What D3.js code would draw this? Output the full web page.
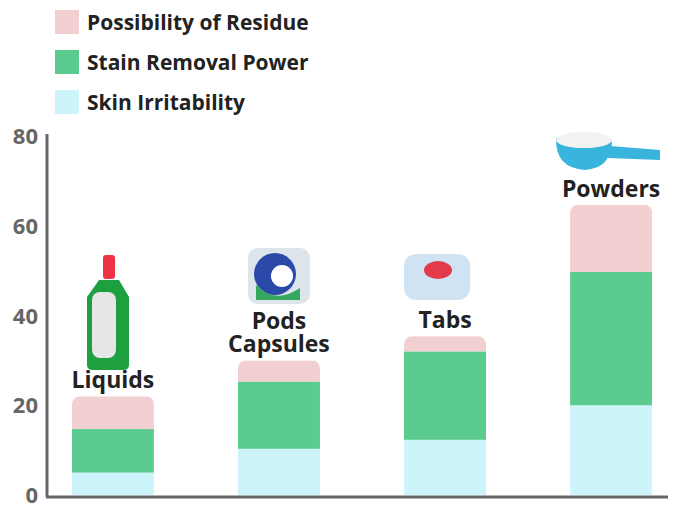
<!DOCTYPE html><html><head><meta charset="utf-8">
<script src="https://cdn.jsdelivr.net/npm/d3@7"></script>
<style>body{margin:0;background:#fff}svg{font-family:"Open Sans","Noto Sans",sans-serif}</style></head><body>
<svg id="c" width="690" height="518"></svg>
<script>
const categories=["Liquids","Pods|Capsules","Tabs","Powders"];
const skin=[5,10.3,12.3,20];
const stain=[9.7,15,19.7,29.7];
const residue=[7.3,4.7,3.4,15];
const seriesNames=["Possibility of Residue","Stain Removal Power","Skin Irritability"];
const colors=["#f2cfd0","#5ccb8f","#cdf3fb"];
const yTicks=[0,20,40,60,80];

const svg=d3.select("#c");
const x=d3.scaleBand().domain(categories).range([47,677]).paddingInner(0.506).paddingOuter(0.15);
const y=d3.scaleLinear().domain([0,80]).range([495,136]);

svg.append("line").attr("x1",47).attr("x2",47).attr("y1",134).attr("y2",497).attr("stroke","#666").attr("stroke-width",3);
svg.append("line").attr("x1",46).attr("x2",668).attr("y1",497).attr("y2",497).attr("stroke","#666").attr("stroke-width",3);
svg.selectAll("text.yt").data(yTicks).join("text").attr("x",38).attr("y",d=>y(d)+8)
 .attr("text-anchor","end").attr("font-size",22).attr("font-weight",700).attr("fill","#666").text(d=>d);

const rows=categories.map((c,i)=>({c,vals:[skin[i],stain[i],residue[i]]}));
rows.forEach(r=>{
  const total=r.vals.reduce((a,b)=>a+b,0);
  const bx=x(r.c),bw=x.bandwidth();
  const clipId="clip"+categories.indexOf(r.c);
  svg.append("clipPath").attr("id",clipId).append("rect").attr("x",bx).attr("y",y(total)).attr("width",bw).attr("height",y(0)-y(total)+10).attr("rx",8);
  const g=svg.append("g").attr("clip-path",`url(#${clipId})`);
  let acc=0;
  [2,1,0].forEach((ci,k)=>{
    const v=r.vals[k];
    g.append("rect").attr("x",bx).attr("width",bw).attr("y",y(acc+v)).attr("height",y(acc)-y(acc+v)).attr("fill",colors[ci]);
    acc+=v;
  });
  const lines=r.c.split("|");
  lines.forEach((t,j)=>{
    svg.append("text").attr("x",bx+bw/2).attr("y",y(total)-8-(lines.length-1-j)*23)
     .attr("text-anchor","middle").attr("font-size",23).attr("font-weight",700).attr("fill","#222").text(t);
  });
});

const ic=svg.append("g");
ic.append("rect").attr("x",103).attr("y",255).attr("width",12).attr("height",24).attr("fill","#ee3344").attr("rx",3);
ic.append("path").attr("d","M99,280 L119,280 L129,297 L129,365 Q129,370 123,370 L93,370 Q87,370 87,365 L87,297 Z").attr("fill","#1fa040");
ic.append("rect").attr("x",92).attr("y",292).attr("width",24).attr("height",66).attr("rx",8).attr("fill","#e6e6e6");
ic.append("rect").attr("x",248).attr("y",248).attr("width",62).attr("height",56).attr("rx",10).attr("fill","#dde4ea");
ic.append("circle").attr("cx",275).attr("cy",274).attr("r",21).attr("fill","#2a49a8");
ic.append("circle").attr("cx",282).attr("cy",276).attr("r",11).attr("fill","#ffffff");
ic.append("path").attr("d","M256,285 Q275,305 300,288 L300,300 L256,300 Z").attr("fill","#35a860");
ic.append("rect").attr("x",404).attr("y",254).attr("width",66).attr("height",46).attr("rx",12).attr("fill","#cfe3f2");
ic.append("ellipse").attr("cx",438).attr("cy",270).attr("rx",14).attr("ry",9).attr("fill","#e23a4a");
ic.append("path").attr("d","M556,138 Q555,168 585,170 Q612,168 612,140 Z").attr("fill","#39b5dd");
ic.append("ellipse").attr("cx",584).attr("cy",140).attr("rx",28).attr("ry",8).attr("fill","#f2f2f2");
ic.append("path").attr("d","M610,146 L660,150 L660,160 L608,158 Z").attr("fill","#39b5dd");

seriesNames.forEach((n,i)=>{
  svg.append("rect").attr("x",55).attr("y",10+i*40).attr("width",24).attr("height",24).attr("fill",colors[i]);
  svg.append("text").attr("x",87).attr("y",30+i*40).attr("font-size",21).attr("font-weight",700).attr("fill","#222").text(n);
});
</script></body></html>
